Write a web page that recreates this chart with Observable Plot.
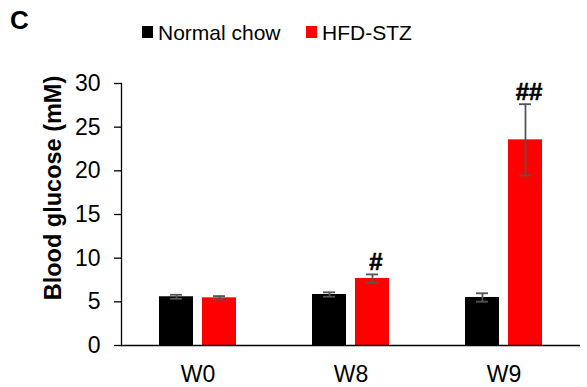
<!DOCTYPE html>
<html><head><meta charset="utf-8">
<script src="https://cdn.jsdelivr.net/npm/d3@7"></script>
<script src="https://cdn.jsdelivr.net/npm/@observablehq/plot@0.6"></script>
<style>
body{margin:0;background:#fff;font-family:"Liberation Sans",Arial,sans-serif;}
#wrap{position:relative;width:587px;height:387px;background:#fff;overflow:hidden}
#chart{position:absolute;left:0;top:0}
#panel{position:absolute;left:10px;top:7px;font-size:26px;line-height:26px;font-weight:bold}
.sw{position:absolute;top:26px;width:11px;height:12px}
.lt{position:absolute;top:22px;font-size:21px;line-height:21px;white-space:nowrap}
#ytitle{position:absolute;left:53px;top:188px;transform:translate(-50%,-50%) rotate(-90deg);font-size:23.5px;font-weight:bold;white-space:nowrap;line-height:23px}
</style></head><body>
<div id="wrap">
  <div id="chart"></div>
  <div id="panel">C</div>
  <div id="legend"></div>
  <div id="ytitle">Blood glucose (mM)</div>
</div>
<script>
const weeks = ["W0", "W8", "W9"];
const groups = ["Normal chow", "HFD-STZ"];
const groupColors = ["#000000", "#ff0000"];
const normalMean = [5.58, 5.84, 5.50];
const normalSE = [0.23, 0.25, 0.48];
const hfdMean = [5.46, 7.67, 23.55];
const hfdSE = [0.20, 0.47, 4.08];
const hfdSig = ["", "#", "##"];
const yTicks = [0, 5, 10, 15, 20, 25, 30];

const normal = weeks.map((w, i) => ({week: w, mean: normalMean[i], se: normalSE[i]}));
const hfd = weeks.map((w, i) => ({week: w, mean: hfdMean[i], se: hfdSE[i], sig: hfdSig[i]}));

// legend
const legend = document.getElementById("legend");
const legendX = [[142, 158], [306, 322]];
groups.forEach((g, i) => {
  const s = document.createElement("div");
  s.className = "sw"; s.style.left = legendX[i][0] + "px"; s.style.background = groupColors[i];
  const t = document.createElement("div");
  t.className = "lt"; t.style.left = legendX[i][1] + "px"; t.textContent = g;
  legend.appendChild(s); legend.appendChild(t);
});

const errStroke = "#555555";
const FF = "Liberation Sans, Arial, sans-serif";
const chart = Plot.plot({
  width: 587, height: 387,
  marginLeft: 121, marginRight: 7, marginTop: 83, marginBottom: 42,
  style: {fontFamily: FF, fontSize: "22px", color: "black", background: "white"},
  x: {domain: weeks, padding: 0},
  y: {domain: [0, 30]},
  marks: [
    Plot.barY(normal, {x: "week", y: "mean", fill: groupColors[0], insetLeft: 38, insetRight: 81}),
    Plot.barY(hfd, {x: "week", y: "mean", fill: groupColors[1], insetLeft: 81, insetRight: 38}),
    Plot.ruleX(normal, {x: "week", y1: d => d.mean - d.se, y2: d => d.mean + d.se, dx: -21.5, stroke: errStroke, strokeWidth: 1.8}),
    Plot.ruleX(hfd, {x: "week", y1: d => d.mean - d.se, y2: d => d.mean + d.se, dx: 21.5, stroke: errStroke, strokeWidth: 1.8}),
    Plot.tickY(normal, {x: "week", y: d => d.mean + d.se, insetLeft: 49, insetRight: 92, stroke: errStroke, strokeWidth: 1.8}),
    Plot.tickY(normal, {x: "week", y: d => d.mean - d.se, insetLeft: 49, insetRight: 92, stroke: errStroke, strokeWidth: 1.8}),
    Plot.tickY(hfd, {x: "week", y: d => d.mean + d.se, insetLeft: 92, insetRight: 49, stroke: errStroke, strokeWidth: 1.8}),
    Plot.tickY(hfd, {x: "week", y: d => d.mean - d.se, insetLeft: 92, insetRight: 49, stroke: errStroke, strokeWidth: 1.8}),
    Plot.text(hfd, {x: "week", y: d => d.mean + d.se, text: "sig", dx: 25, dy: -12, fontSize: 24, fontWeight: 900, fontFamily: "Liberation Sans", fill: "black", stroke: "black", strokeWidth: 0.6}),
    Plot.ruleY([0], {stroke: "black", strokeWidth: 1.3}),
    Plot.frame({anchor: "left", stroke: "black", strokeWidth: 1.3}),
    Plot.axisY({ticks: yTicks, tickSize: 7, tickPadding: 14, label: null, stroke: "black", strokeWidth: 1.3, fontSize: 23}),
    Plot.axisX({tickSize: 0, tickPadding: 20, label: null, fontSize: 23})
  ]
});
document.getElementById("chart").appendChild(chart);
</script>
</body></html>
